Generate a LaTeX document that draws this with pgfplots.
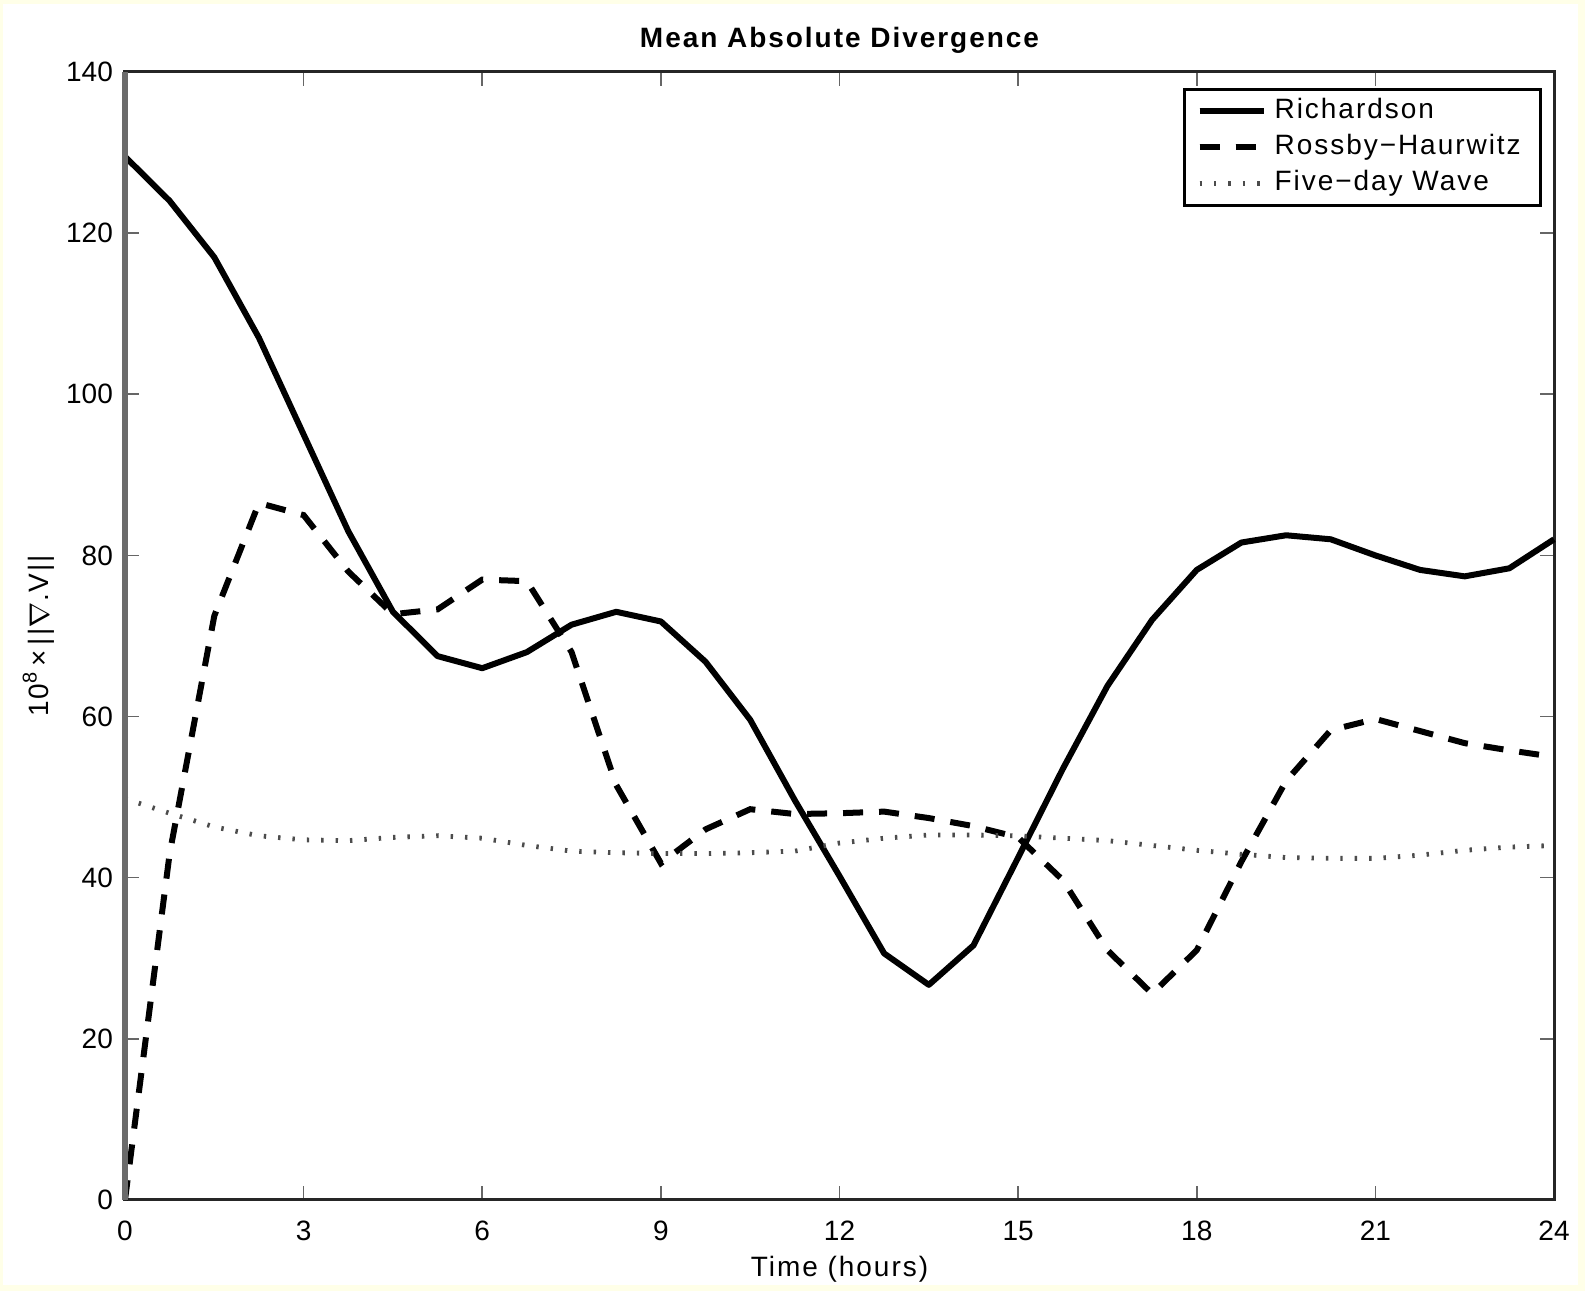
\documentclass[border=0pt]{standalone}
\usepackage{fontspec}
\setmainfont{Liberation Sans}
\newfontfamily\widesans[LetterSpace=7]{Liberation Sans}
\usepackage{pgfplots}
\usepackage{pgfplotstable}
\pgfplotsset{compat=1.18}
\definecolor{bgyellow}{RGB}{255,255,232}

% time (hours), Richardson, Rossby-Haurwitz, five-day wave
\pgfplotstableread{
t     rich   ross   five
0     129.5  0.0    49.8
0.75  124.0  43.0   48.0
1.5   117.0  72.5   46.3
2.25  107.0  86.5   45.2
3     95.0   85.0   44.7
3.75  83.0   78.0   44.6
4.5   73.0   72.7   45.0
5.25  67.5   73.3   45.2
6     66.0   77.0   44.9
6.75  68.0   76.8   44.0
7.5   71.4   68.0   43.3
8.25  73.0   51.5   43.1
9     71.8   41.8   43.0
9.75  66.8   46.0   43.0
10.5  59.6   48.5   43.1
11.25 49.6   47.9   43.3
12    40.2   48.0   44.3
12.75 30.6   48.2   44.9
13.5  26.7   47.4   45.3
14.25 31.6   46.4   45.3
15    42.5   45.0   45.2
15.75 53.5   39.7   44.9
16.5  63.8   31.0   44.6
17.25 72.0   25.6   44.0
18    78.2   31.0   43.4
18.75 81.6   42.0   42.9
19.5  82.5   52.0   42.5
20.25 82.0   58.3   42.4
21    80.0   59.7   42.4
21.75 78.2   58.2   42.8
22.5  77.4   56.7   43.4
23.25 78.4   55.8   43.8
24    82.0   55.0   44.0
}\divdata

\begin{document}
\begin{tikzpicture}
  \fill[bgyellow] (0,0) rectangle (396.25pt,322.75pt);
  \fill[white] (0.75pt,1.5pt) rectangle (394.5pt,321.75pt);
  \begin{axis}[
    at={(31.25pt,22.75pt)}, anchor=south west,
    scale only axis, width=357.25pt, height=282pt,
    xmin=0, xmax=24, ymin=0, ymax=140,
    xtick={0,3,...,24}, ytick={0,20,...,140},
    tick align=inside,
    major tick length=3.5pt,
    tick style={black!60, line width=0.4pt},
    axis line style={black!85, line width=0.75pt},
    /pgf/number format/assume math mode=true,
    ticklabel style={font=\fontsize{7}{8}\selectfont},
    xticklabel style={yshift=-1.75pt},
    yticklabel style={xshift=0.5pt},
    title={Mean Absolute Divergence},
    title style={font=\widesans\bfseries\fontsize{7}{8}\selectfont, yshift=-5pt},
    xlabel={Time (hours)},
    xlabel style={font=\widesans\fontsize{7}{8}\selectfont, yshift=3pt},
    ylabel={10\textsuperscript{8}\,×\,||$\nabla$.V||},
    ylabel style={font=\widesans\fontsize{7}{8}\selectfont, yshift=-4pt},
    legend cell align=left,
    legend image code/.code={
      \path (0pt,0pt) -- (16pt,0pt);
      \draw[#1] (0pt,0pt) -- (13.5pt,0pt);},
    legend style={at={(1,1)}, anchor=north east, xshift=-3pt, yshift=-4pt,
      draw=black, line width=0.65pt, inner xsep=3pt, inner ysep=1pt,
      font=\widesans\fontsize{7}{8}\selectfont,
      nodes={inner ysep=1.2pt, text height=5.1pt, text depth=1.5pt}},
    clip=false,
  ]
    \addplot[black, line width=1.5pt, line join=round] table[x=t, y=rich] {\divdata};
    \addplot[black, line width=1.5pt, dash pattern=on 5pt off 4pt] table[x=t, y=ross] {\divdata};
    \addplot[black!70, line width=1.2pt, dash pattern=on 0.6pt off 3pt] table[x=t, y=five] {\divdata};
    \legend{Richardson, Rossby−Haurwitz, Five−day Wave}
    \draw[black!58, line width=1.5pt] (rel axis cs:0,0) -- (rel axis cs:0,1);
  \end{axis}
  \pgfresetboundingbox
  \useasboundingbox (0,0) rectangle (396.25pt,322.75pt);
\end{tikzpicture}
\end{document}
